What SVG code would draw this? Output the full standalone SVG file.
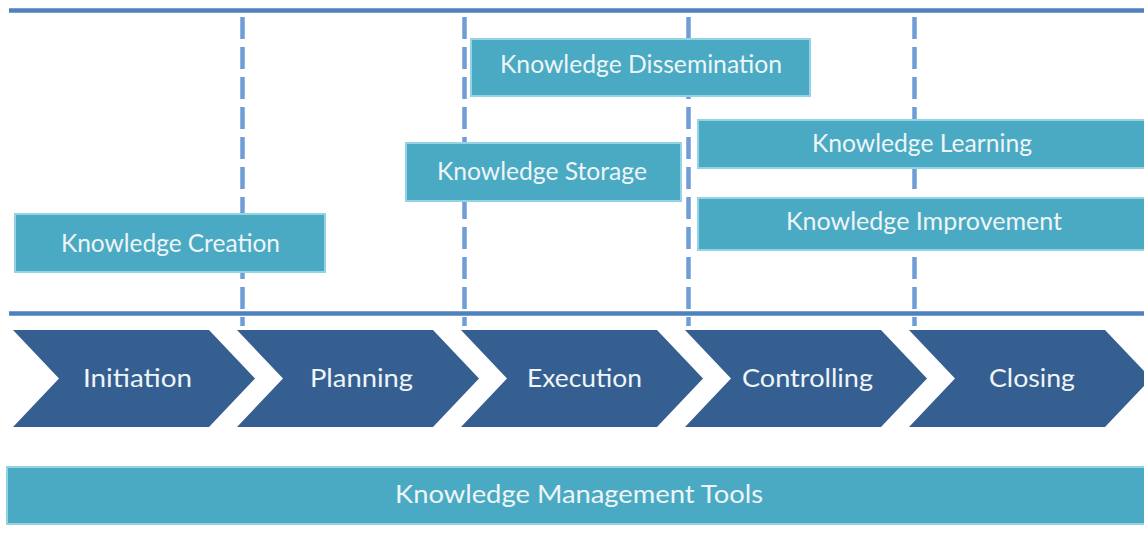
<svg xmlns="http://www.w3.org/2000/svg" width="1144" height="554" viewBox="0 0 1144 554">
<style>
.hline{stroke:#4f81bd;stroke-width:4.5;fill:none}
.dash{stroke:#6f9ed6;stroke-width:4.5;stroke-dasharray:22 8;fill:none}
.box{fill:#4aaac4;stroke:#93d3e3;stroke-width:2}
.chev{fill:#365f91}
.t{font-family:Lato,"Liberation Sans",sans-serif;font-size:25px;fill:#eef5f7;text-anchor:start}
</style>
<rect width="1144" height="554" fill="#ffffff"/>
<g id="connectors">
<line class="hline" x1="9" y1="10.5" x2="1144" y2="10.5"/>
<line class="hline" x1="9" y1="313.5" x2="1144" y2="313.5"/>
<line class="dash" x1="242.5" y1="17" x2="242.5" y2="326"/>
<line class="dash" x1="464.5" y1="17" x2="464.5" y2="326"/>
<line class="dash" x1="688.5" y1="17" x2="688.5" y2="326"/>
<line class="dash" x1="914.5" y1="17" x2="914.5" y2="326"/>
</g>
<g id="dissemination"><rect class="box" x="471" y="39" width="339" height="57"/><text class="t" x="500" y="73" textLength="282" lengthAdjust="spacingAndGlyphs">Knowledge Dissemination</text></g>
<g id="storage"><rect class="box" x="406" y="143" width="275" height="58"/><text class="t" x="437" y="180" textLength="210" lengthAdjust="spacingAndGlyphs">Knowledge Storage</text></g>
<g id="learning"><rect class="box" x="698" y="120" width="450" height="48"/><text class="t" x="812" y="152" textLength="220" lengthAdjust="spacingAndGlyphs">Knowledge Learning</text></g>
<g id="improvement"><rect class="box" x="698" y="198" width="450" height="52"/><text class="t" x="786" y="230" textLength="276" lengthAdjust="spacingAndGlyphs">Knowledge Improvement</text></g>
<g id="creation"><rect class="box" x="15" y="214" width="310" height="58"/><text class="t" x="61" y="252" textLength="219" lengthAdjust="spacingAndGlyphs">Knowledge Creation</text></g>
<g id="initiation"><polygon class="chev" points="13,330 209,330 255,378.5 209,427 13,427 59,378.5"/><text class="t" x="83" y="387" textLength="109" lengthAdjust="spacingAndGlyphs">Initiation</text></g>
<g id="planning"><polygon class="chev" points="237,330 433,330 479,378.5 433,427 237,427 283,378.5"/><text class="t" x="310" y="387" textLength="103" lengthAdjust="spacingAndGlyphs">Planning</text></g>
<g id="execution"><polygon class="chev" points="461,330 657,330 703,378.5 657,427 461,427 507,378.5"/><text class="t" x="527" y="387" textLength="115" lengthAdjust="spacingAndGlyphs">Execution</text></g>
<g id="controlling"><polygon class="chev" points="685,330 881,330 927,378.5 881,427 685,427 731,378.5"/><text class="t" x="742" y="387" textLength="131" lengthAdjust="spacingAndGlyphs">Controlling</text></g>
<g id="closing"><polygon class="chev" points="909,330 1105,330 1151,378.5 1105,427 909,427 955,378.5"/><text class="t" x="989" y="387" textLength="86" lengthAdjust="spacingAndGlyphs">Closing</text></g>
<g id="tools"><rect class="box" x="7" y="467" width="1145" height="57"/><text class="t" x="395" y="503" textLength="368" lengthAdjust="spacingAndGlyphs">Knowledge Management Tools</text></g>
</svg>
